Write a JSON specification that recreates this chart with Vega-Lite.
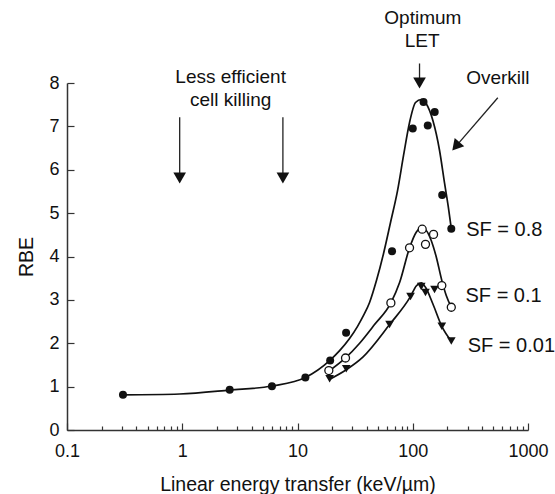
{
  "$schema": "https://vega.github.io/schema/vega-lite/v6.json",
  "width": 461,
  "height": 347,
  "autosize": {"type": "none"},
  "padding": {"left": 67, "top": 83, "right": 27, "bottom": 64},
  "background": "white",
  "config": {"view": {"stroke": null}, "font": "Liberation Sans"},
  "datasets": {
    "curves": [
      {"series": "0.8", "x": 0.306, "y": 0.81},
      {"series": "0.8", "x": 0.95, "y": 0.83},
      {"series": "0.8", "x": 2.58, "y": 0.92},
      {"series": "0.8", "x": 6.0, "y": 1.015},
      {"series": "0.8", "x": 11.7, "y": 1.21},
      {"series": "0.8", "x": 19.0, "y": 1.6},
      {"series": "0.8", "x": 23.2, "y": 1.83},
      {"series": "0.8", "x": 28.3, "y": 2.11},
      {"series": "0.8", "x": 33.2, "y": 2.39},
      {"series": "0.8", "x": 37.4, "y": 2.64},
      {"series": "0.8", "x": 42.2, "y": 2.94},
      {"series": "0.8", "x": 48.5, "y": 3.45},
      {"series": "0.8", "x": 55.8, "y": 4.07},
      {"series": "0.8", "x": 64.2, "y": 4.79},
      {"series": "0.8", "x": 73.8, "y": 5.52},
      {"series": "0.8", "x": 83.2, "y": 6.33},
      {"series": "0.8", "x": 93.8, "y": 7.09},
      {"series": "0.8", "x": 105.7, "y": 7.55},
      {"series": "0.8", "x": 118.5, "y": 7.62},
      {"series": "0.8", "x": 131, "y": 7.52},
      {"series": "0.8", "x": 149.3, "y": 7.14},
      {"series": "0.8", "x": 170.7, "y": 6.45},
      {"series": "0.8", "x": 188.8, "y": 5.69},
      {"series": "0.8", "x": 205.6, "y": 5.06},
      {"series": "0.8", "x": 216, "y": 4.64},
      {"series": "0.1", "x": 18.7, "y": 1.356},
      {"series": "0.1", "x": 26.1, "y": 1.66},
      {"series": "0.1", "x": 34.6, "y": 2.0},
      {"series": "0.1", "x": 46.6, "y": 2.43},
      {"series": "0.1", "x": 64.6, "y": 2.93},
      {"series": "0.1", "x": 76.9, "y": 3.4},
      {"series": "0.1", "x": 93.8, "y": 4.2},
      {"series": "0.1", "x": 107.2, "y": 4.56},
      {"series": "0.1", "x": 118.5, "y": 4.66},
      {"series": "0.1", "x": 131, "y": 4.6},
      {"series": "0.1", "x": 144.6, "y": 4.37},
      {"series": "0.1", "x": 160, "y": 3.99},
      {"series": "0.1", "x": 178.7, "y": 3.45},
      {"series": "0.1", "x": 195.3, "y": 3.1},
      {"series": "0.1", "x": 216, "y": 2.83},
      {"series": "0.01", "x": 18.7, "y": 1.16},
      {"series": "0.01", "x": 26.5, "y": 1.39},
      {"series": "0.01", "x": 36.9, "y": 1.68},
      {"series": "0.01", "x": 62.9, "y": 2.43},
      {"series": "0.01", "x": 95.7, "y": 3.08},
      {"series": "0.01", "x": 107.2, "y": 3.32},
      {"series": "0.01", "x": 118.5, "y": 3.39},
      {"series": "0.01", "x": 129, "y": 3.29},
      {"series": "0.01", "x": 149.3, "y": 2.91},
      {"series": "0.01", "x": 178.7, "y": 2.39},
      {"series": "0.01", "x": 216, "y": 2.05}
    ],
    "filled": [
      {"x": 0.306, "y": 0.81},
      {"x": 2.58, "y": 0.93},
      {"x": 6.0, "y": 1.01},
      {"x": 11.7, "y": 1.21},
      {"x": 19.2, "y": 1.6},
      {"x": 26.4, "y": 2.24},
      {"x": 66.1, "y": 4.12},
      {"x": 100, "y": 6.95},
      {"x": 124, "y": 7.56},
      {"x": 135, "y": 7.02},
      {"x": 155, "y": 7.33},
      {"x": 180, "y": 5.42},
      {"x": 216, "y": 4.64}
    ],
    "open": [
      {"x": 18.7, "y": 1.37},
      {"x": 26.1, "y": 1.66},
      {"x": 64.6, "y": 2.93},
      {"x": 93.8, "y": 4.2},
      {"x": 120.8, "y": 4.63},
      {"x": 129, "y": 4.28},
      {"x": 151.5, "y": 4.51},
      {"x": 178.7, "y": 3.33},
      {"x": 216, "y": 2.83}
    ],
    "tri": [
      {"x": 19.0, "y": 1.18},
      {"x": 26.5, "y": 1.41},
      {"x": 62.9, "y": 2.43},
      {"x": 95.7, "y": 3.08},
      {"x": 118.5, "y": 3.31},
      {"x": 129, "y": 3.17},
      {"x": 154.5, "y": 3.24},
      {"x": 178.7, "y": 2.39},
      {"x": 216, "y": 2.05}
    ],
    "arrows": [
      {"x": 0.95, "y": 7.21, "x2": 0.95, "y2": 5.85},
      {"x": 7.47, "y": 7.21, "x2": 7.47, "y2": 5.85},
      {"x": 114.5, "y": 8.45, "x2": 114.5, "y2": 8.02},
      {"x": 547, "y": 7.66, "x2": 236.6, "y2": 6.54}
    ],
    "heads": [
      {"x": 0.95, "y": 5.81, "angle": 0},
      {"x": 7.47, "y": 5.81, "angle": 0},
      {"x": 114.5, "y": 8.0, "angle": 0},
      {"x": 236.6, "y": 6.54, "angle": 41}
    ],
    "notes": [
      {"x": 2.63, "y": 8.13, "text": "Less efficient"},
      {"x": 2.63, "y": 7.6, "text": "cell killing"},
      {"x": 122.4, "y": 9.49, "text": "Optimum"},
      {"x": 120.5, "y": 8.96, "text": "LET"},
      {"x": 547, "y": 8.11, "text": "Overkill"}
    ],
    "sf": [
      {"x": 291, "y": 4.6, "text": "SF = 0.8"},
      {"x": 287, "y": 3.1, "text": "SF = 0.1"},
      {"x": 300, "y": 1.93, "text": "SF = 0.01"}
    ]
  },
  "encoding": {
    "x": {
      "field": "x",
      "type": "quantitative",
      "scale": {"type": "log", "domain": [0.1, 1000], "nice": false},
      "axis": {
        "title": "Linear energy transfer (keV/µm)",
        "values": [0.1, 0.2, 0.3, 0.4, 0.5, 0.6, 0.7, 0.8, 0.9, 1, 2, 3, 4, 5, 6, 7, 8, 9, 10, 20, 30, 40, 50, 60, 70, 80, 90, 100, 200, 300, 400, 500, 600, 700, 800, 900, 1000],
        "labelExpr": "abs(log(datum.value)/LN10 - round(log(datum.value)/LN10)) < 0.000001 ? format(datum.value, '~g') : ''",
        "tickSize": {"condition": {"test": "abs(log(datum.value)/LN10 - round(log(datum.value)/LN10)) < 0.000001", "value": -7}, "value": -4},
        "labelPadding": 19.5,
        "labelOverlap": false,
        "labelFlush": false,
        "labelBound": false,
        "grid": false,
        "domainColor": "#333333",
        "domainWidth": 1.5,
        "tickColor": "#333333",
        "tickWidth": 1.2,
        "labelFontSize": 18,
        "labelColor": "#111111",
        "titleFontSize": 19.5,
        "titleFontWeight": "normal",
        "titleColor": "#111111",
        "titlePadding": 12
      }
    },
    "y": {
      "field": "y",
      "type": "quantitative",
      "scale": {"domain": [0, 8], "nice": false, "zero": false},
      "axis": {
        "title": "RBE",
        "values": [0, 1, 2, 3, 4, 5, 6, 7, 8],
        "tickSize": -7,
        "labelPadding": 15,
        "grid": false,
        "labelFlush": false,
        "domainColor": "#333333",
        "domainWidth": 1.5,
        "tickColor": "#333333",
        "tickWidth": 1.2,
        "labelFontSize": 18,
        "labelColor": "#111111",
        "titleFontSize": 19.5,
        "titleFontWeight": "normal",
        "titleColor": "#111111",
        "titlePadding": 12
      }
    }
  },
  "layer": [
    {
      "data": {"name": "curves"},
      "mark": {"type": "line", "interpolate": "monotone", "color": "#111111", "strokeWidth": 1.7, "clip": false},
      "encoding": {"detail": {"field": "series"}}
    },
    {
      "data": {"name": "arrows"},
      "mark": {"type": "rule", "color": "#222222", "strokeWidth": 1.3, "clip": false},
      "encoding": {"x2": {"field": "x2"}, "y2": {"field": "y2"}}
    },
    {
      "data": {"name": "heads"},
      "mark": {"type": "point", "shape": "triangle-down", "filled": true, "color": "#111111", "opacity": 1, "size": 160, "clip": false},
      "encoding": {"angle": {"field": "angle", "type": "quantitative", "scale": null}}
    },
    {
      "data": {"name": "filled"},
      "mark": {"type": "point", "shape": "circle", "filled": true, "color": "#111111", "opacity": 1, "size": 64, "clip": false}
    },
    {
      "data": {"name": "open"},
      "mark": {"type": "point", "shape": "circle", "filled": true, "fill": "white", "stroke": "#111111", "strokeWidth": 1.3, "opacity": 1, "size": 64, "clip": false}
    },
    {
      "data": {"name": "tri"},
      "mark": {"type": "point", "shape": "triangle-down", "filled": true, "color": "#111111", "opacity": 1, "size": 75, "clip": false}
    },
    {
      "data": {"name": "notes"},
      "mark": {"type": "text", "align": "center", "baseline": "middle", "fontSize": 19, "color": "#111111", "clip": false},
      "encoding": {"text": {"field": "text"}}
    },
    {
      "data": {"name": "sf"},
      "mark": {"type": "text", "align": "left", "baseline": "middle", "fontSize": 20, "color": "#111111", "clip": false},
      "encoding": {"text": {"field": "text"}}
    }
  ]
}
